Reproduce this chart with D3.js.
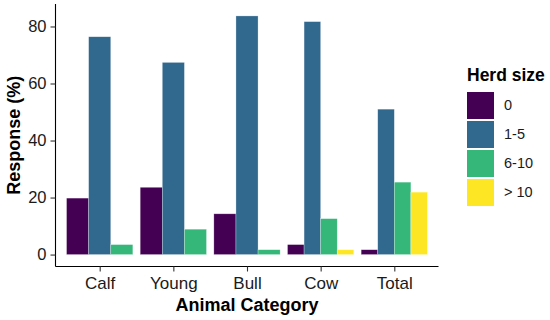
<!DOCTYPE html>
<html>
<head>
<meta charset="utf-8">
<script src="https://cdn.jsdelivr.net/npm/d3@7"></script>
<style>
  body { margin: 0; background: #fff; }
  svg { font-family: "Liberation Sans", Arial, sans-serif; }
</style>
</head>
<body>
<svg id="chart" width="550" height="320"></svg>
<script>
// Data
const categories = ["Calf", "Young", "Bull", "Cow", "Total"];
const herdSizes = ["0", "1-5", "6-10", "> 10"];
const colors = ["#440154", "#31688E", "#35B779", "#FDE725"];
// one array per herd size, null = no bar in that category
const size0   = [19.8, 23.6, 14.3, 3.5, 1.7];
const size1_5 = [76.4, 67.4, 83.7, 81.7, 51.0];
const size6_10 = [3.5, 8.9, 1.7, 12.6, 25.4];
const sizeGt10 = [null, null, null, 1.7, 21.9];
const yTicks = [0, 20, 40, 60, 80];

const series = [size0, size1_5, size6_10, sizeGt10];

const svg = d3.select("#chart");
const m = { left: 55.5, right: 438.5, top: 4, bottom: 266.5 };

// discrete x scale with ggplot's 0.6 expansion
const x = d3.scaleLinear().domain([0.4, categories.length + 0.6]).range([m.left, m.right]);
const maxV = d3.max(series.flat().filter(v => v != null));
const y = d3.scaleLinear().domain([-maxV * 0.05, maxV * 1.05]).range([m.bottom, m.top]);

// Bars, dodged among the herd sizes present in each category
const barW = x(1.9) - x(1);
categories.forEach((cat, ci) => {
    const present = series.map((s, si) => ({ si, v: s[ci] })).filter(d => d.v != null);
    const w = barW / present.length;
    const x0 = x(ci + 1) - barW / 2;
    svg.append("g").selectAll("rect").data(present).join("rect")
        .attr("x", (d, i) => x0 + i * w)
        .attr("width", w)
        .attr("y", d => y(d.v))
        .attr("height", d => y(0) - y(d.v))
        .attr("fill", d => colors[d.si])
        .attr("stroke", "rgba(255,255,255,0.45)")
        .attr("stroke-width", 0.6);
});

// Axes
const yAxis = svg.append("g").attr("transform", `translate(${m.left},0)`)
    .call(d3.axisLeft(y).tickValues(yTicks).tickSize(5).tickPadding(4));
const xAxis = svg.append("g").attr("transform", `translate(0,${m.bottom})`)
    .call(d3.axisBottom(x).tickValues(d3.range(1, categories.length + 1))
        .tickFormat(d => categories[d - 1]).tickSize(5).tickPadding(5.5));

[yAxis, xAxis].forEach(a => {
    a.select(".domain").attr("stroke", "#000").attr("stroke-width", 1.1);
    a.selectAll(".tick line").attr("stroke", "#333").attr("stroke-width", 1.1);
    a.selectAll(".tick text").attr("fill", "#1a1a1a");
});
yAxis.selectAll(".tick text").attr("font-size", "16.5px");
xAxis.selectAll(".tick text").attr("font-size", "17px");
// ggplot draws axis lines only over the panel, not the outer tick extensions
yAxis.select(".domain").attr("d", `M0,${m.bottom}V${m.top}`);
xAxis.select(".domain").attr("d", `M${m.left},0H${m.right}`);

// Axis titles
svg.append("text")
    .attr("x", (m.left + m.right) / 2).attr("y", 311)
    .attr("text-anchor", "middle")
    .attr("font-size", "18px").attr("font-weight", "bold")
    .text("Animal Category");
svg.append("text")
    .attr("transform", `translate(20,${(m.top + m.bottom) / 2}) rotate(-90)`)
    .attr("text-anchor", "middle")
    .attr("font-size", "18px").attr("font-weight", "bold")
    .text("Response (%)");

// Legend
const lg = svg.append("g").attr("transform", "translate(467,92)");
lg.append("text").attr("x", 0).attr("y", -11)
    .attr("font-size", "17.5px").attr("font-weight", "bold")
    .text("Herd size");
const keys = lg.selectAll("g").data(herdSizes).join("g")
    .attr("transform", (d, i) => `translate(0,${i * 29})`);
keys.append("rect").attr("width", 27).attr("height", 27)
    .attr("fill", (d, i) => colors[i]);
keys.append("text").attr("x", 37).attr("y", 14)
    .attr("dominant-baseline", "middle")
    .attr("font-size", "14.5px").attr("fill", "#1a1a1a")
    .text(d => d);
</script>
</body>
</html>
